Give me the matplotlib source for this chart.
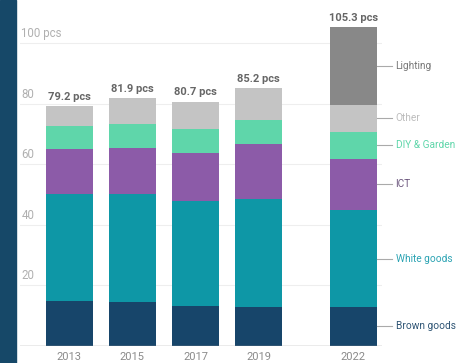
import numpy as np
import matplotlib.pyplot as plt
from matplotlib.patches import Rectangle

plt.rcParams['font.family'] = ['Roboto', 'DejaVu Sans']

# data (pcs per household)
years = [2013, 2015, 2017, 2019, 2022]
brown = [14.8, 14.3, 13.1, 12.9, 12.6]
white = [35.4, 35.9, 34.6, 35.5, 32.3]
ict = [14.8, 15.3, 16.1, 18.3, 16.9]
diy = [7.8, 7.9, 7.9, 8.0, 9.0]
other = [6.4, 8.5, 9.0, 10.5, 8.8]
lighting = [0, 0, 0, 0, 25.7]
totals = [79.2, 81.9, 80.7, 85.2, 105.3]

series = [('Brown goods', brown, '#17456a', '#2f5575'),
          ('White goods', white, '#0e97a6', '#2ba3b3'),
          ('ICT', ict, '#8c5ba8', '#6f5a80'),
          ('DIY & Garden', diy, '#5fd6aa', '#5fd6aa'),
          ('Other', other, '#c4c4c4', '#bdbdbd'),
          ('Lighting', lighting, '#888888', '#777777')]

fig = plt.figure(figsize=(4.59, 3.63), dpi=100)
fig.patches.append(Rectangle((0, 0), 16 / 459, 1, transform=fig.transFigure,
                             color='#164868', zorder=0))

ax = fig.add_axes([20 / 459, 17.5 / 363, 362 / 459, 345.5 / 363])
ax.set_xlim(2011.44, 2022.91)
ax.set_ylim(0, 114.4)
ax.axis('off')

# grid + y labels
for v in [20, 40, 60, 80, 100]:
    ax.axhline(v, color='#eeeeee', lw=0.8, zorder=0)
    ax.text(2011.48, v + 1.0, f'{v} pcs' if v == 100 else str(v),
            fontsize=8.3, color='#b0b0b0', va='bottom', ha='left')
ax.axhline(0, color='#999999', lw=1.0, zorder=3)

w = 1.48
bottom = np.zeros(len(years))
for name, vals, c, tc in series:
    vals = np.array(vals)
    ax.bar(years, vals, width=w, bottom=bottom, color=c, zorder=2)
    # label for last bar
    mid = bottom[-1] + vals[-1] / 2
    x0 = years[-1] + w / 2
    ax.plot([x0, x0 + 0.5], [mid, mid], color='#aaaaaa', lw=0.8, clip_on=False)
    ax.text(x0 + 0.6, mid, name, fontsize=7.3, color=tc, va='center',
            ha='left', clip_on=False)
    bottom += vals

for x, t in zip(years, totals):
    ax.text(x, t + 1.5, f'{t} pcs', ha='center', va='bottom', fontsize=8,
            fontweight='bold', color='#666666')

for x in years:
    ax.text(x, -2.2, str(x), ha='center', va='top', fontsize=8,
            color='#8a8a8a', clip_on=False)

fig.savefig('out.png', dpi=100)
